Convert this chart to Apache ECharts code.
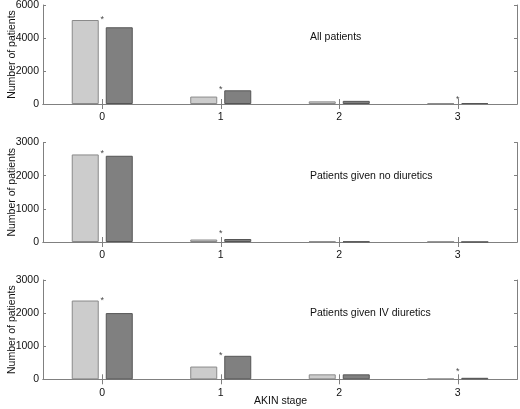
<!DOCTYPE html>
<html>
<head>
<meta charset="utf-8">
<script src="https://cdn.jsdelivr.net/npm/echarts@6/dist/echarts.min.js"></script>
<style>
html,body{margin:0;padding:0;background:#fff;}
#chart{width:520px;height:409px;}
</style>
</head>
<body>
<div id="chart"></div>
<script>
var categories = ['0', '1', '2', '3'];
var panelTitles = ['All patients', 'Patients given no diuretics', 'Patients given IV diuretics'];
var yMax = [6000, 3000, 3000];
var yInterval = [2000, 1000, 1000];
// light bars (first group) and dark bars (second group)
var allLight = [5090, 450, 160, 40];
var allDark = [4650, 830, 190, 60];
var noDiurLight = [2640, 75, 15, 10];
var noDiurDark = [2600, 90, 15, 3];
var ivLight = [2380, 385, 150, 20];
var ivDark = [2000, 710, 150, 45];
// significance markers (asterisks): height at which each is drawn, null = none
var allSig = [5270, 970, null, 420];
var noDiurSig = [2740, 330, null, null];
var ivSig = [2450, 790, null, 310];

var lightSets = [allLight, noDiurLight, ivLight];
var darkSets = [allDark, noDiurDark, ivDark];
var sigSets = [allSig, noDiurSig, ivSig];

var FONT = 'Liberation Sans, Arial, sans-serif';
var FS = 10.5;
var AX = '#808080';
var grids = [
  {left: 43, top: 5, width: 474, height: 99},
  {left: 43, top: 142.5, width: 474, height: 99.5},
  {left: 43, top: 280, width: 474, height: 99.3}
];
grids.forEach(function (g) { g.containLabel = false; g.outerBoundsMode = 'none'; });
var xAxes = [], yAxes = [], series = [], titles = [], graphics = [];
grids.forEach(function (g, i) {
  xAxes.push({
    type: 'category', gridIndex: i, data: categories, position: 'bottom',
    axisLine: {lineStyle: {color: AX, width: 1}},
    axisTick: {show: true, inside: true, alignWithLabel: true, length: 5, lineStyle: {color: AX}},
    axisLabel: {color: '#111', fontFamily: FONT, fontSize: FS, margin: 8},
    splitLine: {show: false}
  });
  xAxes.push({
    type: 'category', gridIndex: i, data: categories, position: 'top',
    axisLine: {lineStyle: {color: AX, width: 1}},
    axisTick: {show: true, inside: true, alignWithLabel: true, length: 5, lineStyle: {color: AX}},
    axisLabel: {show: false},
    splitLine: {show: false}
  });
  yAxes.push({
    type: 'value', gridIndex: i, min: 0, max: yMax[i], interval: yInterval[i], position: 'left',
    axisLine: {show: true, lineStyle: {color: AX, width: 1}},
    axisTick: {show: true, inside: true, length: 3, lineStyle: {color: AX}},
    axisLabel: {color: '#111', fontFamily: FONT, fontSize: FS, margin: 4,
      formatter: function (v) { return String(v); }},
    splitLine: {show: false}
  });
  yAxes.push({
    type: 'value', gridIndex: i, min: 0, max: yMax[i], interval: yInterval[i], position: 'right',
    axisLine: {show: true, lineStyle: {color: AX, width: 1}},
    axisTick: {show: true, inside: true, length: 3, lineStyle: {color: AX}},
    axisLabel: {show: false},
    splitLine: {show: false}
  });
  series.push({
    type: 'bar', xAxisIndex: 2 * i, yAxisIndex: 2 * i, data: lightSets[i],
    barWidth: 27, barGap: '26%',
    itemStyle: {color: '#cccccc', borderColor: '#8a8a8a', borderWidth: 1},
    emphasis: {disabled: true}, animation: false
  });
  series.push({
    type: 'bar', xAxisIndex: 2 * i, yAxisIndex: 2 * i, data: darkSets[i],
    barWidth: 27, barGap: '26%',
    itemStyle: {color: '#808080', borderColor: '#555555', borderWidth: 1},
    emphasis: {disabled: true}, animation: false
  });
  series.push({
    type: 'scatter', xAxisIndex: 2 * i + 1, yAxisIndex: 2 * i,
    data: sigSets[i].map(function (s, k) { return s == null ? null : [categories[k], s]; }).filter(Boolean),
    symbolSize: 1, itemStyle: {color: 'rgba(0,0,0,0)'},
    label: {show: true, formatter: '*', position: 'inside', offset: [0, 2],
      color: '#111', fontFamily: FONT, fontSize: 9},
    emphasis: {disabled: true}, animation: false
  });
  titles.push({
    text: panelTitles[i], left: 310, top: [32, 171, 308][i],
    textStyle: {color: '#111', fontFamily: FONT, fontSize: FS, fontWeight: 'normal'}
  });
  graphics.push({
    type: 'text', x: 12, y: g.top + g.height / 2, rotation: Math.PI / 2,
    style: {text: 'Number of patients', fill: '#111', font: FS + 'px ' + FONT,
      textAlign: 'center', textVerticalAlign: 'middle'}
  });
});
titles.push({
  text: 'AKIN stage', left: 254, top: 396,
  textStyle: {color: '#111', fontFamily: FONT, fontSize: FS, fontWeight: 'normal'}
});
titles.forEach(function (t) { t.padding = 0; });

var chart = echarts.init(document.getElementById('chart'), null, {renderer: 'canvas'});
chart.setOption({
  animation: false,
  backgroundColor: '#ffffff',
  title: titles,
  grid: grids,
  xAxis: xAxes,
  yAxis: yAxes,
  series: series,
  graphic: graphics
});
</script>
</body>
</html>
